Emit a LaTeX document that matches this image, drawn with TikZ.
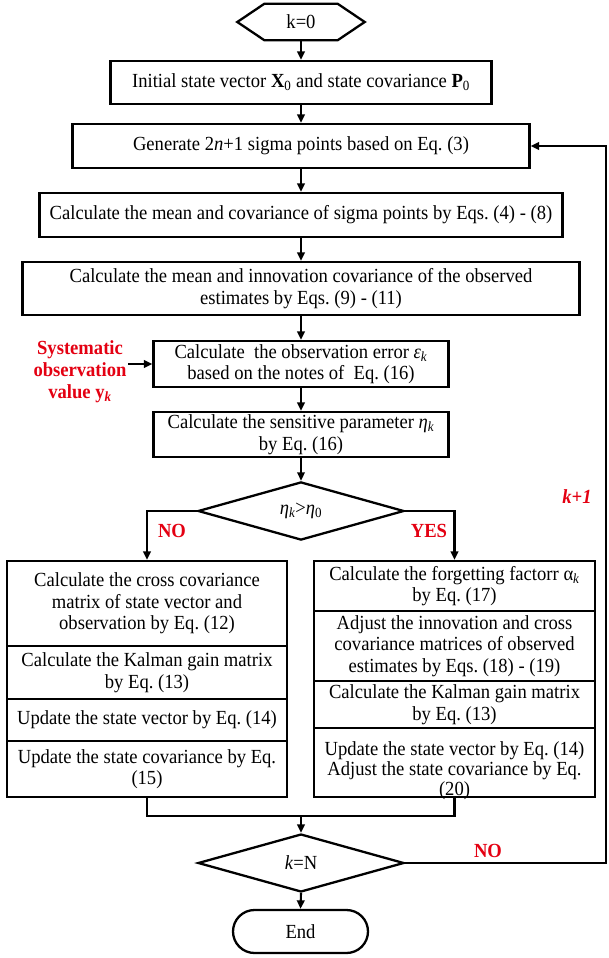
\documentclass[tikz,border=0pt]{standalone}
\usepackage{fontspec}
\setmainfont{Liberation Serif}[FakeStretch=0.93]
\usetikzlibrary{arrows.meta,shapes.geometric}
\definecolor{lblred}{RGB}{228,0,18}
\frenchspacing
\begin{document}
\frenchspacing
\begin{tikzpicture}[x=1pt,y=-1pt]
\tikzset{
 fs/.style={font=\fontsize{20}{21.5}\selectfont\frenchspacing},
 box/.style={draw, line width=2.3pt, inner sep=0pt, align=center, fs},
 cond/.style={diamond, draw, line width=2.3pt, inner sep=0pt, fs, minimum width=206pt, minimum height=58pt},
 conn/.style={line width=2.1pt, -{Triangle[length=8.5pt,width=7.5pt]}},
 plain/.style={line width=2.1pt},
 redlbl/.style={text=lblred, font=\fontsize{20}{22}\selectfont\bfseries, align=center, inner sep=0pt},
}
\useasboundingbox[fill=white] (0,0) rectangle (608,958);

% start hexagon
\node[draw=none, minimum width=127pt, minimum height=36pt, inner sep=0pt, fs] (start) at (301,22) {k=0};
\draw[line width=2.3pt] (start.west) -- ([xshift=27pt]start.north west) -- ([xshift=-27pt]start.north east) -- (start.east) -- ([xshift=-27pt]start.south east) -- ([xshift=27pt]start.south west) -- cycle;

\node[box, minimum width=381pt, minimum height=43pt] (b1) at (301,82.5) {Initial state vector \textbf{X}\textsubscript{0} and state covariance \textbf{P}\textsubscript{0}};
\node[box, minimum width=457pt, minimum height=44pt] (b2) at (301,146) {Generate 2\textit{n}+1 sigma points based on Eq. (3)};
\node[box, minimum width=523pt, minimum height=44pt] (b3) at (301,215) {Calculate the mean and covariance of sigma points by Eqs. (4) - (8)};
\node[box, minimum width=557pt, minimum height=53pt] (b4) at (301,288.5) {Calculate the mean and innovation covariance of the observed\\estimates by Eqs. (9) - (11)};
\node[box, minimum width=295pt, minimum height=46pt] (b5) at (301,364) {Calculate\ \ the observation error \textit{ε}\textsubscript{\textit{k}}\\based on the notes of\ \ Eq. (16)};
\node[box, minimum width=295pt, minimum height=45pt] (b6) at (301,434.5) {Calculate the sensitive parameter \textit{η}\textsubscript{\textit{k}}\\by Eq. (16)};
\node[cond] (d1) at (301,511) {\textit{η}\textsubscript{\textit{k}}>\textit{η}\textsubscript{0}};

% left column
\node[box, minimum width=280pt, minimum height=85pt] (l1) at (147,603.5) {Calculate the cross covariance\\matrix of state vector and\\observation by Eq. (12)};
\node[box, minimum width=280pt, minimum height=53pt] (l2) at (147,672.5) {Calculate the Kalman gain matrix\\by Eq. (13)};
\node[box, minimum width=280pt, minimum height=42pt] (l3) at (147,720) {Update the state vector by Eq. (14)};
\node[box, minimum width=280pt, minimum height=56pt] (l4) at (147,769) {Update the state covariance by Eq.\\(15)};

% right column
\node[box, minimum width=281pt, minimum height=50pt] (r1) at (454.5,586) {Calculate the forgetting factorr α\textsubscript{\textit{k}}\\by Eq. (17)};
\node[box, minimum width=281pt, minimum height=70pt] (r2) at (454.5,646) {Adjust the innovation and cross\\covariance matrices of observed\\estimates by Eqs. (18) - (19)};
\node[box, minimum width=281pt, minimum height=47pt] (r3) at (454.5,704.5) {Calculate the Kalman gain matrix\\by Eq. (13)};
\node[box, minimum width=281pt, minimum height=69pt] (r4) at (454.5,762.5) {};
\node[inner sep=0pt, align=center, font=\fontsize{20}{20}\selectfont\frenchspacing] (r4t) at (454.5,771) {Update the state vector by Eq. (14)\\Adjust the state covariance by Eq.\\(20)};

\node[cond] (d2) at (301,863) {\textit{k}=N};
\node[box, rounded corners=21.5pt, minimum width=135pt, minimum height=43pt] (end) at (300.5,931.5) {End};

% red labels
\node[redlbl] (obs) at (80,372) {Systematic\\observation\\value \textbf{y}\textsubscript{\textit{k}}};
\node[redlbl] (no1) at (172,531) {NO};
\node[redlbl] (yes1) at (429,531) {YES};
\node[redlbl] (no2) at (488,851) {NO};
\node[redlbl, font=\fontsize{20}{22}\selectfont\bfseries\itshape] (kp1) at (577,497) {k+1};

% connectors
\draw[conn] (start.south) -- (b1.north);
\draw[conn] (b1.south) -- (b2.north);
\draw[conn] (b2.south) -- (b3.north);
\draw[conn] (b3.south) -- (b4.north);
\draw[conn] (b4.south) -- (b5.north);
\draw[conn] (b5.south) -- (b6.north);
\draw[conn] (b6.south) -- (d1.north);
\coordinate (obsarr) at (128,364);
\draw[conn] (obsarr) -- (obsarr -| b5.west);
\draw[conn] (d1.west) -| (l1.north);
\draw[conn] (d1.east) -| (r1.north);
\coordinate (j) at (301,816);
\draw[plain] (l4.south) |- (j);
\draw[plain] (r4.south) |- (j);
\draw[conn] (j) -- (d2.north);
\draw[conn] (d2.south) -- (end.north);
\coordinate (lp) at (606,863);
\draw[conn] (d2.east) -- (lp) |- (b2.east);
\end{tikzpicture}
\end{document}
